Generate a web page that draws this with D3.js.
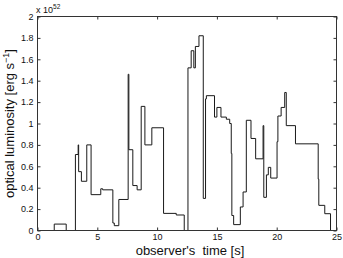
<!DOCTYPE html>
<html><head><meta charset="utf-8">
<script src="https://cdn.jsdelivr.net/npm/d3@7"></script>
<style>body{margin:0;background:#fff}svg{display:block}text{font-family:"Liberation Sans",Arial,sans-serif;fill:#111}</style>
</head><body>
<script>
const stepTimes = [0,1.4,2.4,3.17,3.40,3.44,3.67,4.12,4.48,5.29,5.45,6.30,6.42,6.80,7.58,7.64,7.97,8.33,8.67,8.98,9.56,10.54,11.60,12.27,12.58,12.85,13.07,13.20,13.50,13.86,14.05,14.12,14.80,15.00,15.34,15.79,16.07,16.20,16.25,16.40,16.96,17.19,17.46,17.85,18.24,18.86,18.92,19.14,19.30,19.50,20.03,20.10,20.37,20.67,20.80,21.57,23.47,23.52,24.02,24.50,25.00];
const stepValues = [0,0.06,0,0.71,0.80,0.55,0.46,0.80,0.335,0.39,0.38,0.07,0.045,0.29,1.46,0.755,0.42,0.38,1.16,0.80,0.96,0.16,0.145,0,1.52,1.68,1.52,1.72,1.82,0.30,1.23,1.26,1.06,1.15,1.06,1.04,1.00,0.72,0.14,0.055,0.22,0.36,1.03,0.86,0.67,0.98,0.31,0.52,0.59,0.49,0.83,1.07,1.15,1.29,0.98,0.81,0.48,0.235,0.157,0,0];
const xTicks = [0,5,10,15,20,25];
const yTicks = [0,0.2,0.4,0.6,0.8,1,1.2,1.4,1.6,1.8,2];
const yTickLabels = ["0","0.2","0.4","0.6","0.8","1","1.2","1.4","1.6","1.8","2"];

const W=343,H=258;
const L=37.5,R=336.5,T=16.5,B=230.5;
const svg=d3.select("body").append("svg").attr("width",W).attr("height",H);
const x=d3.scaleLinear().domain([0,25]).range([L,R]);
const y=d3.scaleLinear().domain([0,2]).range([B,T]);
const data=stepTimes.map((t,i)=>({t,v:stepValues[i]}));

const line=d3.line().x(d=>x(d.t)).y(d=>y(d.v)).curve(d3.curveStepAfter);
svg.append("path").datum(data).attr("d",line).attr("fill","none").attr("stroke","#1a1a1a").attr("stroke-width",1);

svg.append("rect").attr("x",L).attr("y",T).attr("width",R-L).attr("height",B-T).attr("fill","none").attr("stroke","#333").attr("stroke-width",1);

const fmt=(d)=>yTickLabels[yTicks.indexOf(d)];
const ax=svg.append("g").attr("transform",`translate(0,${B})`).call(d3.axisBottom(x).tickValues(xTicks).tickSize(-3).tickPadding(3).tickFormat(d3.format("d")));
const axT=svg.append("g").attr("transform",`translate(0,${T})`).call(d3.axisTop(x).tickValues(xTicks).tickSize(-3).tickFormat(""));
const ay=svg.append("g").attr("transform",`translate(${L},0)`).call(d3.axisLeft(y).tickValues(yTicks).tickSize(-3).tickPadding(4).tickFormat(fmt));
const ayR=svg.append("g").attr("transform",`translate(${R},0)`).call(d3.axisRight(y).tickValues(yTicks).tickSize(-3).tickFormat(""));
[ax,axT,ay,ayR].forEach(g=>{g.select(".domain").remove();g.selectAll("line").attr("stroke","#333");g.selectAll("text").attr("font-size",9).attr("font-family","Liberation Sans, Arial, sans-serif").attr("fill","#111");});

const ex=svg.append("text").attr("x",36).attr("y",13).attr("font-size",9);
ex.append("tspan").text("x 10");
ex.append("tspan").attr("dy",-4).attr("font-size",6.5).text("52");

svg.append("text").attr("x",(L+R)/2+3).attr("y",254.5).attr("text-anchor","middle").attr("font-size",13).style("white-space","pre").text("observer's  time [s]");
const yl=svg.append("text").attr("transform",`translate(14,${(T+B)/2}) rotate(-90)`).attr("text-anchor","middle").attr("font-size",13);
yl.append("tspan").text("optical luminosity [erg s");
yl.append("tspan").attr("dy",-5).attr("font-size",9).text("−1");
yl.append("tspan").attr("dy",5).text("]");
</script>
</body></html>
